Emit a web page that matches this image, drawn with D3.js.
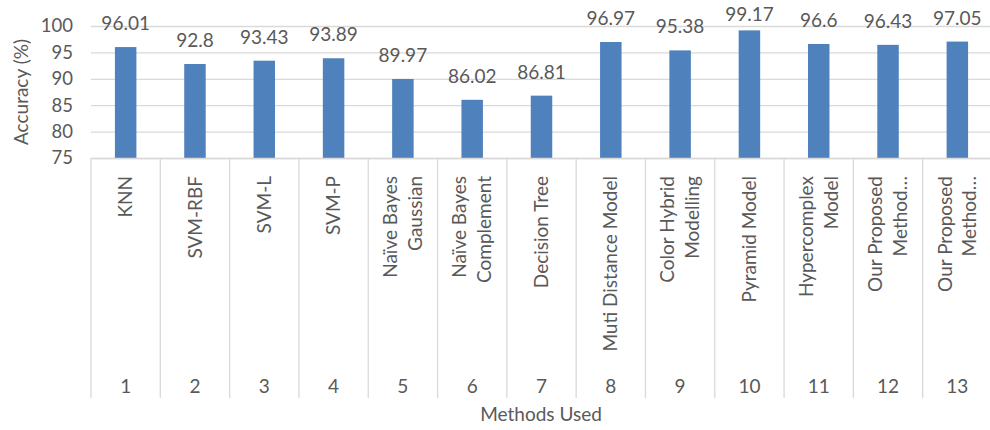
<!DOCTYPE html>
<html>
<head>
<meta charset="utf-8">
<script src="https://cdn.jsdelivr.net/npm/d3@7/dist/d3.min.js"></script>
<style>
  html, body { margin: 0; padding: 0; background: #fff; }
  svg { display: block; font-family: Lato, "Open Sans", sans-serif; }
</style>
</head>
<body>
<svg id="chart" width="990" height="430"></svg>
<script>
// Method names (line breaks become stacked rotated lines)
const methodNames = [
  "KNN", "SVM-RBF", "SVM-L", "SVM-P",
  "Naïve Bayes\nGaussian", "Naïve Bayes\nComplement", "Decision Tree",
  "Muti Distance Model", "Color Hybrid\nModelling", "Pyramid Model",
  "Hypercomplex\nModel", "Our Proposed\nMethod…", "Our Proposed\nMethod…"
];
// Outer category level: method numbers
const methodNumbers = ["1", "2", "3", "4", "5", "6", "7", "8", "9", "10", "11", "12", "13"];
// Accuracy (%) per method
const accuracy = [96.01, 92.8, 93.43, 93.89, 89.97, 86.02, 86.81, 96.97, 95.38, 99.17, 96.6, 96.43, 97.05];
// Value-axis ticks
const yTicks = [75, 80, 85, 90, 95, 100];

const svg = d3.select("#chart");
const textColor = "#595959";
const gridColor = "#d9d9d9";
const barColor = "#4f81bd";

const plotLeft = 91, plotRight = 992, plotTop = 26, plotBottom = 158;

const x = d3.scaleBand()
  .domain(methodNumbers)
  .range([plotLeft, plotRight])
  .paddingInner(0)
  .paddingOuter(0);

const y = d3.scaleLinear()
  .domain([75, 100])
  .range([plotBottom, plotTop]);

// Horizontal gridlines and tick labels
const yAxis = d3.axisLeft(y)
  .tickValues(yTicks)
  .tickSize(-(plotRight - plotLeft))
  .tickPadding(18)
  .tickFormat(d3.format("d"));

const gy = svg.append("g")
  .attr("transform", `translate(${plotLeft},0)`)
  .call(yAxis);
gy.select(".domain").remove();
gy.selectAll(".tick line").attr("stroke", gridColor).attr("stroke-width", 1.3);
gy.selectAll(".tick text")
  .attr("fill", textColor)
  .style("font-size", "18.5px")
  .style("font-family", "Lato, 'Open Sans', sans-serif");

// Y axis title
svg.append("text")
  .attr("transform", `translate(28,${(plotTop + plotBottom) / 2}) rotate(-90)`)
  .attr("text-anchor", "middle")
  .attr("fill", textColor)
  .style("font-size", "19px")
  .text("Accuracy (%)");

// Bars
const barW = x.bandwidth() * 0.31;
svg.append("g").selectAll("rect")
  .data(accuracy)
  .join("rect")
  .attr("x", (d, i) => x(methodNumbers[i]) + (x.bandwidth() - barW) / 2)
  .attr("y", d => y(d))
  .attr("width", barW)
  .attr("height", d => y(75) - y(d))
  .attr("fill", barColor);

// Value labels, kept inside the chart area at the top
svg.append("g").selectAll("text")
  .data(accuracy)
  .join("text")
  .attr("x", (d, i) => x(methodNumbers[i]) + x.bandwidth() / 2)
  .attr("y", d => Math.max(y(d) - 17, 21))
  .attr("text-anchor", "middle")
  .attr("fill", textColor)
  .style("font-size", "19px")
  .text(d => String(d));

// Category axis: baseline and separators
svg.append("line")
  .attr("x1", plotLeft).attr("x2", plotRight)
  .attr("y1", plotBottom + 0.5).attr("y2", plotBottom + 0.5)
  .attr("stroke", gridColor).attr("stroke-width", 1.3);

const sepX = methodNumbers.map(d => x(d)).concat([plotRight]);
svg.append("g").selectAll("line")
  .data(sepX)
  .join("line")
  .attr("x1", d => d).attr("x2", d => d)
  .attr("y1", plotBottom).attr("y2", 398)
  .attr("stroke", gridColor).attr("stroke-width", 1.3);

// Rotated method names
const lineGap = 25;
const nameG = svg.append("g").selectAll("g")
  .data(methodNames)
  .join("g")
  .attr("transform", (d, i) => `translate(${x(methodNumbers[i]) + x.bandwidth() / 2},176) rotate(-90)`);

nameG.each(function(d) {
  const lines = d.split("\n");
  const t = d3.select(this).append("text")
    .attr("text-anchor", "end")
    .attr("fill", textColor)
    .style("font-size", "19px");
  lines.forEach((ln, k) => {
    t.append("tspan")
      .attr("x", 0)
      .attr("y", (k - (lines.length - 1) / 2) * lineGap)
      .attr("dy", "0.35em")
      .text(ln);
  });
});

// Method numbers
svg.append("g").selectAll("text")
  .data(methodNumbers)
  .join("text")
  .attr("x", d => x(d) + x.bandwidth() / 2)
  .attr("y", 393)
  .attr("text-anchor", "middle")
  .attr("fill", textColor)
  .style("font-size", "19px")
  .text(d => d);

// X axis title
svg.append("text")
  .attr("x", 541)
  .attr("y", 421)
  .attr("text-anchor", "middle")
  .attr("fill", textColor)
  .style("font-size", "19px")
  .text("Methods Used");
</script>
</body>
</html>
